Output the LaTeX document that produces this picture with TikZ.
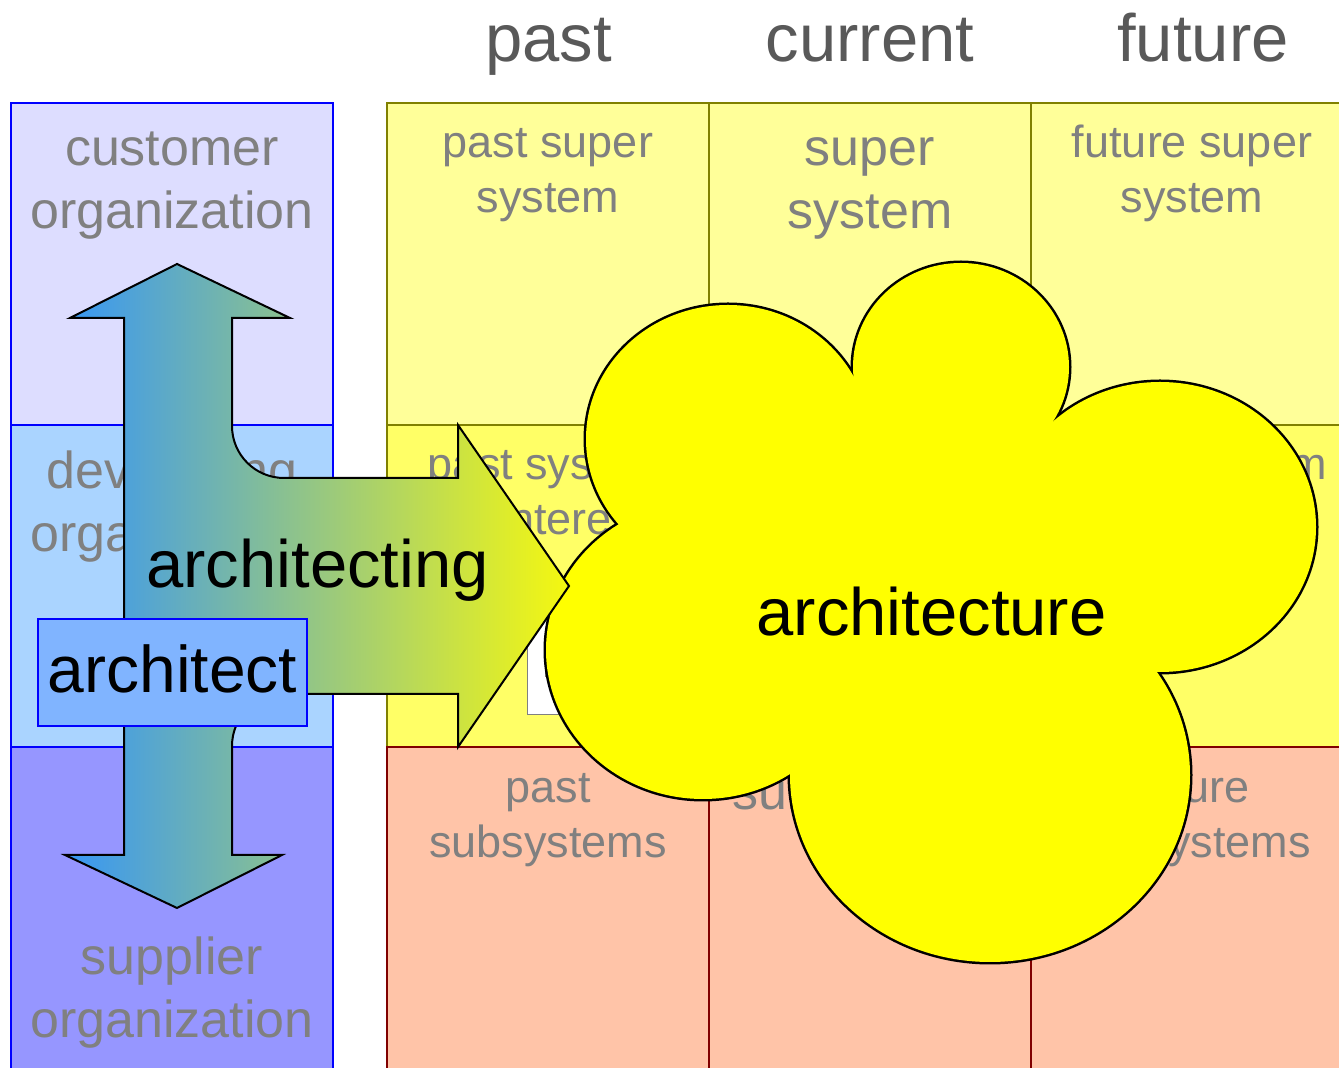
\documentclass[tikz,border=0pt]{standalone}
\usepackage{fontspec}
\setmainfont{Liberation Sans}
\definecolor{custC}{RGB}{221,221,255}
\definecolor{devC}{RGB}{170,212,255}
\definecolor{supC}{RGB}{150,150,255}
\definecolor{topC}{RGB}{255,255,153}
\definecolor{midC}{RGB}{255,255,102}
\definecolor{botC}{RGB}{255,196,168}
\definecolor{oliveC}{RGB}{128,128,0}
\definecolor{redC}{RGB}{128,0,0}
\definecolor{txtC}{RGB}{128,128,128}
\definecolor{hdrC}{RGB}{89,89,89}
\definecolor{archC}{RGB}{128,180,255}
\definecolor{arrL}{RGB}{55,150,245}
\definecolor{arrR}{RGB}{245,248,15}
\definecolor{cloudC}{RGB}{255,255,0}
\newcommand{\twol}[2]{\begin{tabular}[t]{@{}c@{}}#1\\#2\end{tabular}}
\begin{document}
\begin{tikzpicture}[x=1pt,y=1pt,
  orgbox/.style={draw=blue, line width=2pt},
  cellbox/.style={line width=2pt},
  lbl/.style={inner sep=0pt, anchor=base, text=txtC},
  orgfont/.style={font=\fontsize{52}{62.5}\selectfont},
  smallfont/.style={font=\fontsize{45}{54.5}\selectfont},
  curfont/.style={font=\fontsize{52}{63}\selectfont},
  bigtext/.style={inner sep=0pt, anchor=base, font=\fontsize{67}{80}\selectfont},
  hdr/.style={bigtext, text=hdrC}]
\useasboundingbox (0,0) rectangle (1339,1068);
\clip (0,0) rectangle (1339,1068);

% left column
\draw[orgbox, fill=custC] (11,965) rectangle (333,643);
\draw[orgbox, fill=devC] (11,643) rectangle (333,321);
\draw[orgbox, fill=supC] (11,321) rectangle (333,-20);

% grid
\foreach \x in {387,709,1031} {
  \draw[cellbox, fill=topC, draw=oliveC] (\x,965) rectangle ++(322,-322);
}
\foreach \x in {387,709,1031} {
  \draw[cellbox, fill=midC, draw=oliveC] (\x,643) rectangle ++(322,-322);
}
\foreach \x in {387,709,1031} {
  \draw[cellbox, fill=botC, draw=redC] (\x,321) rectangle ++(322,-400);
}

% headers
\node[hdr] (hpast) at (548.5,1006) {past};
\node[hdr] (hcur) at (870,1006) {current};
\node[hdr] (hfut) at (1203,1006) {future};

% left texts
\node[lbl, orgfont] (custT) at (172,902) {\twol{customer}{organization}};
\node[lbl, orgfont] (devT) at (172,579) {\twol{developing}{organization}};
\node[lbl, orgfont] (supT) at (172,93) {\twol{supplier}{organization}};

% cell texts
\node[lbl, smallfont] (pastSup) at (548,910) {\twol{past super}{system}};
\node[lbl, curfont] (curSup) at (870,902) {\twol{super}{system}};
\node[lbl, smallfont] (futSup) at (1192,910) {\twol{future super}{system}};
\node[lbl, smallfont] (pastSoi) at (548,588) {\twol{past system}{of interest}};
\node[lbl, smallfont] (futSoi) at (1192,588) {\twol{future system}{of interest}};
\node[lbl, smallfont] (pastSub) at (548,265) {\twol{past}{subsystems}};
\node[lbl, curfont] (curSub) at (870,258) {subsystems};
\node[lbl, smallfont] (futSub) at (1192,265) {\twol{future}{subsystems}};

% white box partly hidden
\draw[fill=white, draw=gray, line width=1pt] (527,468) rectangle (620,353);
\fill[txtC] (545,430) rectangle (549,391);

% cloud
\foreach \cx/\cy/\rx/\ry in {728/629/142/134, 961/701/108/104, 1160/541/156/145, 990/293/200/187, 703/418/157/149}
  \draw[line width=5pt] (\cx,\cy) ellipse[x radius=\rx, y radius=\ry];
\foreach \cx/\cy/\rx/\ry in {728/629/142/134, 961/701/108/104, 1160/541/156/145, 990/293/200/187, 703/418/157/149}
  \fill[cloudC] (\cx,\cy) ellipse[x radius=\rx, y radius=\ry];
\fill[cloudC] (728,629) -- (961,701) -- (1160,541) -- (990,293) -- (703,418) -- cycle;
\node[bigtext] (archT) at (931.5,432) {architecture};

% arrow
\shadedraw[draw=black, line width=2pt, left color=arrL, right color=arrR, line join=miter]
  (124,750) -- (70,750) -- (177,804) -- (290,750) -- (232,750) -- (232,642)
  arc[start angle=180, end angle=270, radius=52] -- (458,590) -- (458,643)
  -- (569,482) -- (458,321) -- (458,374) -- (284,374)
  arc[start angle=90, end angle=180, radius=52] -- (232,213) -- (282,213)
  -- (177,160) -- (65,213) -- (124,213) -- cycle;
\node[bigtext] (archingT) at (317.5,480) {architecting};

% architect box
\node[draw=blue, line width=2pt, fill=archC, minimum width=269pt, minimum height=107pt, inner sep=0pt] (archBox) at (172.5,395.5) {};
\node[bigtext, font=\fontsize{66}{80}\selectfont] (archBoxT) at (172.5,375) {architect};
\end{tikzpicture}
\end{document}
